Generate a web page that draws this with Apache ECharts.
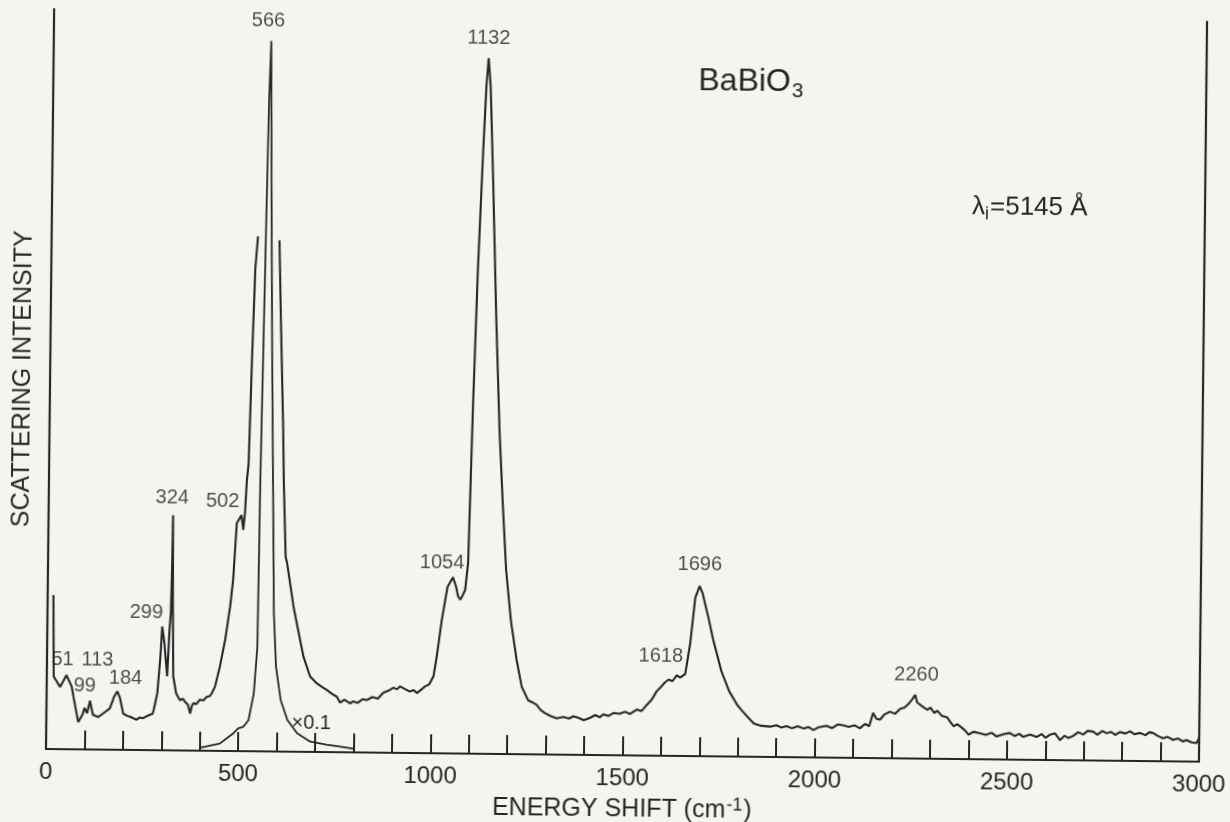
<!DOCTYPE html>
<html>
<head>
<meta charset="utf-8">
<script src="https://cdn.jsdelivr.net/npm/echarts@6.0.0/dist/echarts.min.js"></script>
<style>
  html, body { margin: 0; padding: 0; background: #f4f4f0; overflow: hidden; }
  #chart { width: 1230px; height: 822px; transform: rotate(0.63deg); transform-origin: 46px 749px; }
</style>
</head>
<body>
<div id="chart"></div>
<script>
// Raman spectrum of BaBiO3: energy shift (cm-1) vs scattering intensity (arb. units, 100 = top of frame)

// full-scale trace below the 566 line (pen leaves the scale at the top)
const spectrumLow = [
  [15,20.8],[18,9.8],[35,8.4],[51,10.0],[65,8.5],[70,7.1],[83,3.7],[94,4.7],[99,5.6],[106,4.9],
  [113,6.6],[121,4.7],[135,4.4],[148,4.9],[165,5.6],[176,7.2],[184,7.9],[191,7.0],[200,4.9],[210,4.6],
  [218,4.5],[226,4.3],[235,4.1],[243,4.4],[252,4.3],[262,4.6],[270,4.8],[276,4.9],[279,5.4],[288,7.7],
  [295,12.6],[299,16.7],[305,14.5],[313,10.0],[318,16.3],[321,18.6],[323,25.0],[324,31.8],[326,20.0],[329,10.0],
  [337,7.7],[347,6.8],[355,7.0],[360,6.6],[368,6.2],[374,5.0],[378,6.0],[382,6.4],[390,6.3],[399,6.9],
  [408,6.8],[417,7.3],[425,7.4],[430,7.8],[438,8.7],[450,11.4],[463,15.0],[475,19.5],[482,23.1],[490,30.8],
  [502,31.9],[507,29.9],[511,32.2],[515,36.6],[519,38.8],[525,53.3],[531,65.3],[537,69.6]
];

// full-scale trace from the 566 line up to 1250
const spectrumMid = [
  [593,69.1],[599,58.2],[608,43.6],[611,36.7],[618,26.3],[622,25.5],[640,19.6],[658,15.1],[667,12.9],[685,10.2],
  [702,9.3],[716,8.8],[729,8.4],[742,7.9],[755,7.5],[764,6.7],[775,7.1],[790,6.6],[797,6.9],[810,6.7],
  [822,7.2],[833,7.1],[848,7.5],[862,7.3],[876,8.1],[890,8.4],[902,8.8],[912,8.6],[919,9.0],[930,8.7],
  [945,8.3],[955,8.5],[963,8.1],[975,8.6],[984,9.0],[995,9.3],[1006,10.4],[1014,13.1],[1026,18.0],[1040,22.5],
  [1054,23.8],[1062,22.6],[1068,21.2],[1074,20.8],[1086,22.1],[1093,25.8],[1101,46.6],[1110,65.4],[1120,80.9],[1127,90.2],
  [1132,94.0],[1138,90.3],[1147,77.8],[1159,59.1],[1171,43.6],[1181,34.2],[1192,24.9],[1206,18.0],[1222,12.7],[1236,9.1]
];

// full-scale trace from 1250 to 3000
const spectrumHigh = [
  [1253,7.3],[1265,7.0],[1275,6.7],[1286,6.0],[1297,5.6],[1312,5.2],[1328,4.9],[1345,5.1],[1360,4.9],[1371,5.2],
  [1385,5.0],[1398,4.7],[1414,5.0],[1428,5.4],[1440,5.1],[1449,5.5],[1462,5.3],[1475,5.7],[1492,5.6],[1505,5.9],
  [1518,5.6],[1536,6.2],[1548,6.0],[1561,6.8],[1575,7.6],[1587,8.7],[1598,9.3],[1608,9.9],[1618,10.3],[1628,10.1],
  [1639,10.9],[1648,10.6],[1661,11.1],[1673,15.2],[1685,21.4],[1696,23.0],[1704,22.0],[1719,18.9],[1733,15.7],[1755,11.5],
  [1776,8.8],[1797,7.0],[1810,6.2],[1822,5.5],[1841,4.5],[1860,4.2],[1883,4.1],[1900,4.3],[1912,4.0],[1926,4.2],
  [1940,3.9],[1955,4.2],[1970,3.9],[1983,4.1],[1996,3.7],[2010,4.1],[2030,4.3],[2045,4.0],[2060,4.5],[2073,4.4],
  [2088,4.2],[2103,4.4],[2117,4.0],[2130,4.6],[2141,4.3],[2151,6.1],[2160,5.3],[2169,5.2],[2180,5.9],[2195,6.3],
  [2208,6.0],[2221,6.7],[2233,6.9],[2245,7.5],[2252,8.0],[2260,8.6],[2265,7.6],[2270,7.8],[2280,7.0],[2292,6.6],
  [2300,6.9],[2310,6.2],[2318,6.5],[2330,5.8],[2344,5.6],[2352,5.0],[2361,4.4],[2370,4.7],[2378,4.4],[2390,3.9],
  [2400,3.3],[2412,3.7],[2429,3.5],[2445,3.3],[2460,3.6],[2473,3.1],[2490,3.4],[2507,3.6],[2520,3.2],[2532,3.5],
  [2542,3.1],[2560,3.4],[2577,3.1],[2590,3.5],[2600,3.0],[2611,3.4],[2625,3.6],[2638,2.7],[2650,3.3],[2660,3.0],
  [2672,3.3],[2685,3.8],[2698,3.5],[2710,4.0],[2724,3.9],[2735,3.5],[2748,4.0],[2759,3.7],[2770,3.9],[2782,3.5],
  [2794,3.9],[2808,3.7],[2820,4.0],[2832,3.6],[2846,3.8],[2860,3.5],[2870,3.9],[2880,3.8],[2893,3.4],[2906,3.1],
  [2918,3.3],[2932,2.9],[2945,3.1],[2958,2.7],[2967,2.9],[2980,2.6],[2993,2.5],[3000,3.2]
];

// 566 line recorded at x0.1 sensitivity
const scaledTrace = [
  [400,0.4],[452,1.0],[487,2.4],[500,3.1],[513,3.3],[526,4.2],[539,7.8],[547,14.1],[550,36.7],[554,54.2],
  [558,71.7],[562,88.0],[566,96.0],[568,88.0],[572,71.7],[577,54.2],[583,36.7],[589,18.7],[596,11.5],[609,7.0],
  [627,4.3],[653,2.5],[687,1.4],[730,1.0],[765,0.75],[800,0.5]
];

// labelled line positions (cm-1)
const peakShifts = [51, 99, 113, 184, 299, 324, 502, 566, 1054, 1132, 1618, 1696, 2260];

// labelled values on the energy-shift axis
const axisLabelShifts = [0, 500, 1000, 1500, 2000, 2500, 3000];

const ink = '#262626';
const font = '"Liberation Sans", Arial, sans-serif';

// where each peak number sits relative to its line maximum (px)
const labelOffsets = {
  51: [-4, -16], 99: [0, -22], 113: [7, -41], 184: [8, -13], 299: [-16, -14],
  324: [-1, -17], 502: [-19, -13], 566: [-3, -20], 1054: [-11, -14], 1132: [0, -20],
  1618: [-8, -23], 1696: [0, -21], 2260: [1, -20]
};

const fullTrace = spectrumLow.concat(spectrumMid, spectrumHigh);
function intensityAt(shift) {
  const hit = fullTrace.find(p => p[0] === shift) || scaledTrace.find(p => p[0] === shift);
  return hit ? hit[1] : 0;
}
const peakPoints = peakShifts.map(s => ({
  value: [s, intensityAt(s)],
  name: String(s),
  label: { offset: labelOffsets[s] || [0, -18] }
}));

const measure = document.createElement('canvas').getContext('2d');
function textWidth(t, size) {
  measure.font = size + 'px ' + font;
  return measure.measureText(t).width;
}

const titleX = 691, titleY = 74;
const lamX = 966, lamY = 197;
const graphics = [
  { type: 'text', x: titleX, y: titleY, style: { text: 'BaBiO', font: '32px ' + font, fill: ink, verticalAlign: 'middle' } },
  { type: 'text', x: titleX + textWidth('BaBiO', 32) + 1, y: titleY + 9, style: { text: '3', font: '21px ' + font, fill: ink, verticalAlign: 'middle' } },
  { type: 'text', x: lamX, y: lamY, style: { text: 'λ', font: '26px ' + font, fill: ink, verticalAlign: 'middle' } },
  { type: 'text', x: lamX + textWidth('λ', 26), y: lamY + 7, style: { text: 'i', font: '18px ' + font, fill: ink, verticalAlign: 'middle' } },
  { type: 'text', x: lamX + textWidth('λ', 26) + textWidth('i', 18) + 1, y: lamY, style: { text: '=5145 Å', font: '26px ' + font, fill: ink, verticalAlign: 'middle' } },
  { type: 'text', x: 311, y: 720, style: { text: '×0.1', font: '20px ' + font, fill: ink, align: 'center', verticalAlign: 'middle' } }
];

const chart = echarts.init(document.getElementById('chart'), null, { renderer: 'canvas' });
chart.setOption({
  animation: false,
  backgroundColor: 'transparent',
  textStyle: { fontFamily: font, color: ink },
  grid: { left: 46, right: 31, top: 9, bottom: 73, containLabel: false, outerBoundsMode: 'none' },
  xAxis: {
    type: 'value', min: 0, max: 3000, interval: 100,
    axisLine: { show: true, onZero: false, lineStyle: { color: ink, width: 2.2 } },
    axisTick: { show: true, inside: true, length: 19, lineStyle: { color: ink, width: 2 } },
    axisLabel: {
      margin: 11, fontSize: 24, color: ink, fontFamily: font,
      formatter: v => axisLabelShifts.includes(v) ? String(v) : ''
    },
    splitLine: { show: false },
    name: '{a|ENERGY SHIFT (cm}{s|-1}{a|)}',
    nameLocation: 'middle', nameGap: 40,
    nameTextStyle: {
      rich: {
        a: { fontSize: 25, color: ink, fontFamily: font, verticalAlign: 'bottom' },
        s: { fontSize: 18, color: ink, fontFamily: font, verticalAlign: 'bottom', padding: [0, 1, 9, 1] }
      }
    }
  },
  yAxis: [
    {
      type: 'value', min: 0, max: 100, position: 'left',
      axisLine: { show: true, onZero: false, lineStyle: { color: ink, width: 2.2 } },
      axisTick: { show: false }, axisLabel: { show: false }, splitLine: { show: false },
      name: 'SCATTERING INTENSITY', nameLocation: 'middle', nameGap: 14,
      nameTextStyle: { fontSize: 25, color: ink, fontFamily: font }
    },
    {
      type: 'value', min: 0, max: 100, position: 'right',
      axisLine: { show: true, onZero: false, lineStyle: { color: ink, width: 2.2 } },
      axisTick: { show: false }, axisLabel: { show: false }, splitLine: { show: false }
    }
  ],
  series: [
    {
      name: 'BaBiO3', type: 'line', data: spectrumLow, yAxisIndex: 0,
      symbol: 'none', lineStyle: { color: ink, width: 2.1 }, silent: true
    },
    {
      name: 'BaBiO3 ', type: 'line', data: spectrumMid.concat(spectrumHigh), yAxisIndex: 0,
      symbol: 'none', lineStyle: { color: ink, width: 2.1 }, silent: true
    },
    {
      name: 'x0.1', type: 'line', data: scaledTrace, yAxisIndex: 0,
      symbol: 'none', lineStyle: { color: ink, width: 1.8 }, silent: true
    },
    {
      name: 'peaks', type: 'scatter', data: peakPoints, yAxisIndex: 0,
      symbolSize: 0, silent: true, z: 5,
      label: {
        show: true, position: 'inside', formatter: p => p.name,
        fontSize: 20, color: ink, fontFamily: font, align: 'center', verticalAlign: 'middle'
      }
    }
  ],
  graphic: graphics
});
</script>
</body>
</html>
